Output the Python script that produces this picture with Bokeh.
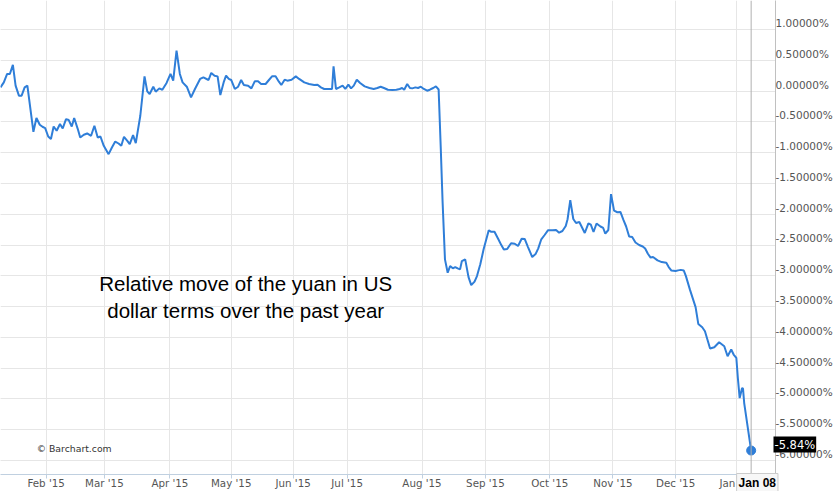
from bokeh.plotting import figure
from bokeh.models import Range1d, FixedTicker, Span, Label, GridBox, Column, LinearAxis, Grid
from bokeh.embed import file_html
from bokeh.resources import INLINE

# trading-session index (approx. one unit per session) and relative move in %
day = [0, 1.1, 2.2, 3.1, 4.1, 5, 6.1, 7, 8, 8.9, 10.9, 11.9, 13, 13.9, 14.8, 15.8, 16.7,
       17.6, 18.6, 19.7, 20.6, 21.7, 22.6, 23.6, 24.4, 25.6, 26.4, 27.6, 28.7, 30, 31.1,
       32.2, 33.1, 34.2, 35.8, 36.9, 38, 39.1, 40, 40.9, 42, 42.8, 43.9, 44.8, 46.3, 47.7,
       48.6, 49.4, 50.6, 51.4, 52.6, 53.6, 55, 56.3, 57.2, 58.3, 59.4, 60.3, 61.7, 63.1,
       64.4, 66.1, 67.2, 68.9, 69.8, 70.9, 71.9, 72.8, 73.9, 74.7, 75.6, 76.4, 77.6, 78.7,
       79.7, 80.6, 82, 83.1, 84.2, 85.3, 86.3, 87.8, 88.9, 90, 91.1, 92.2, 93, 94.1, 95,
       96.4, 97.8, 98.9, 100.6, 102.2, 103.9, 105, 106.1, 107.2, 108.7, 109.8, 110.3,
       111.1, 112.2, 113.3, 114.2, 115.2, 116.1, 117, 118, 119.1, 120.6, 122.2, 123.6,
       124.8, 125.9, 127, 128.3, 129.8, 131.1, 132.2, 133, 133.7, 134.7, 135.6, 136.4,
       137.4, 138.3, 139.2, 140.2, 141.3, 142.2, 143.3, 144.2, 145.1, 145.8, 146.4, 147.2,
       148.1, 148.9, 149.8, 150.6, 151.4, 152.2, 152.8, 153.9, 155, 155.9, 157, 157.8,
       158.9, 160, 161.7, 162.4, 163.6, 164.8, 165.9, 166.7, 167.8, 169.1, 170.3, 171.4,
       172.6, 173.6, 174.7, 176.1, 177.2, 178.1, 179.1, 180.2, 181.3, 182.8, 184, 185,
       186.1, 187.2, 187.8, 188.7, 189.7, 190.6, 191.7, 192.6, 193.5, 194.7, 195.5, 196.4,
       197.4, 198.7, 199.6, 200.3, 201.3, 202.2, 203.2, 204.3, 205.3, 206.3, 207.2, 208.2,
       209.2, 210.3, 211.5, 212.7, 213.5, 214.4, 215.3, 216.1, 217.6, 219, 220.5, 221.3,
       222.2, 223.6, 224.4, 225.3, 226.3, 227, 228.3, 230.2, 231.1, 232.4, 233.3, 235,
       236.4, 238, 239.7, 240.8, 242, 242.8, 243.7, 244.2, 244.8, 245.6, 245.9, 246.3,
       248.6]

move_pct = [0.062, 0.143, 0.280, 0.280, 0.427, 0.090, -0.073, -0.073, 0.062, 0.090,
            -0.660, -0.436, -0.546, -0.578, -0.599, -0.736, -0.778, -0.573, -0.643, -0.534,
            -0.606, -0.453, -0.469, -0.573, -0.436, -0.616, -0.752, -0.708, -0.687, -0.725,
            -0.562, -0.752, -0.736, -0.888, -1.023, -0.915, -0.818, -0.850, -0.888, -0.741,
            -0.806, -0.860, -0.713, -0.844, -0.399, 0.241, -0.003, -0.046, 0.073, -0.008,
            0.046, 0.024, 0.134, 0.280, 0.171, 0.660, 0.280, 0.143, 0.073, -0.101,
            0.036, 0.199, 0.225, 0.182, 0.296, 0.252, 0.241, -0.062, 0.143, 0.252,
            0.199, 0.182, 0.036, 0.073, 0.182, 0.101, 0.090, 0.046, 0.160, 0.160,
            0.117, 0.117, 0.182, 0.244, 0.244, 0.155, 0.101, 0.187, 0.171, 0.187,
            0.241, 0.199, 0.143, 0.117, 0.101, 0.106, 0.062, 0.036, 0.036, 0.036,
            0.404, 0.036, 0.062, 0.090, 0.036, 0.106, 0.046, 0.090, 0.187, 0.134,
            0.078, 0.052, 0.036, 0.052, 0.073, 0.052, 0.024, 0.020, 0.024, 0.036,
            0.052, 0.024, 0.117, 0.052, 0.046, 0.062, 0.052, 0.073, 0.036, 0.008,
            0.024, 0.052, 0.078, 0.028, -0.915, -1.783, -2.733, -2.951, -2.842, -2.879,
            -2.858, -2.879, -2.896, -2.761, -2.733, -3.021, -3.151, -3.094, -3.005, -2.814,
            -2.570, -2.261, -2.283, -2.283, -2.397, -2.505, -2.573, -2.565, -2.472, -2.479,
            -2.516, -2.397, -2.402, -2.533, -2.695, -2.647, -2.554, -2.407, -2.337, -2.261,
            -2.261, -2.256, -2.300, -2.272, -2.191, -2.081, -1.772, -2.077, -2.142, -2.125,
            -2.215, -2.305, -2.147, -2.169, -2.288, -2.150, -2.199, -2.223, -2.316, -2.256,
            -1.674, -1.941, -1.967, -1.963, -2.093, -2.199, -2.362, -2.370, -2.459, -2.500,
            -2.524, -2.557, -2.642, -2.704, -2.695, -2.749, -2.777, -2.788, -2.858, -2.915,
            -2.923, -2.912, -2.904, -2.915, -3.005, -3.221, -3.510, -3.782, -3.836, -3.901,
            -4.182, -4.161, -4.080, -4.145, -4.308, -4.199, -4.280, -4.336, -4.661, -4.987,
            -4.824, -4.834, -5.068, -5.84]

month_ticks = [15.1, 34.4, 56.1, 76.4, 96.9, 114.8, 139.6, 160.6, 181.9, 202.8, 223.6, 243.9]
month_labels = ["Feb '15", "Mar '15", "Apr '15", "May '15", "Jun '15", "Jul '15",
                "Aug '15", "Sep '15", "Oct '15", "Nov '15", "Dec '15", "Jan '16"]
pct_ticks = [1.0, 0.5, 0.0, -0.5, -1.0, -1.5, -2.0, -2.5, -3.0, -3.5, -4.0, -4.5, -5.0, -5.5, -6.0]
pct_labels = ["1.00000%", "0.50000%", "0.00000%", "-0.50000%", "-1.00000%", "-1.50000%",
              "-2.00000%", "-2.50000%", "-3.00000%", "-3.50000%", "-4.00000%", "-4.50000%",
              "-5.00000%", "-5.50000%", "-6.00000%"]
last_date_label = "Jan 08"
last_value_label = "-5.84%"
note_lines = ["Relative move of the yuan in US", "dollar terms over the past year"]
credit = "\u00a9 Barchart.com"

BLUE = "#2f7ed8"
LABEL_COLOR = "#555555"
GRID = "#e6e6e6"
W, H = 835, 491
PX_PER_DAY = 3.0
PX_PER_PCT = 61.4
TOP_PCT = 1.474
FRAME_W, FRAME_H = 770, 473
Y_START = TOP_PCT - FRAME_H / PX_PER_PCT
LABEL_LIFT = 0.106   # tick labels sit a few pixels above their grid lines

p = figure(width=W, height=H, output_backend="svg", toolbar_location=None,
           x_range=Range1d(0, FRAME_W / PX_PER_DAY),
           y_range=Range1d(Y_START, TOP_PCT),
           y_axis_location=None, min_border_left=0, min_border_top=0,
           min_border_right=0, min_border_bottom=0)
p.outline_line_color = None
p.extra_y_ranges = {"labels": Range1d(Y_START - LABEL_LIFT, TOP_PCT - LABEL_LIFT)}

xa = p.xaxis[0]
xa.ticker = FixedTicker(ticks=month_ticks)
xa.major_label_overrides = {t: l for t, l in zip(month_ticks, month_labels)}
xa.major_label_text_font = "DejaVu Sans"
xa.major_label_text_font_size = "10.3px"
xa.major_label_text_color = LABEL_COLOR
xa.major_label_standoff = -2
xa.major_tick_in = 0
xa.major_tick_out = 4
xa.minor_tick_out = 0
xa.minor_tick_in = 0
xa.axis_line_color = "#c0d0e0"
xa.major_tick_line_color = "#c0d0e0"

ya = LinearAxis(y_range_name="labels", ticker=FixedTicker(ticks=pct_ticks),
                major_label_overrides={t: l for t, l in zip(pct_ticks, pct_labels)},
                major_label_text_font="DejaVu Sans", major_label_text_font_size="10.5px",
                major_label_text_color=LABEL_COLOR, major_label_text_align="left",
                major_label_standoff=0,
                major_tick_in=0, major_tick_out=0, minor_tick_in=0, minor_tick_out=0,
                axis_line_color="#c0c0c0")
p.add_layout(ya, "right")

p.xgrid.ticker = FixedTicker(ticks=month_ticks)
p.xgrid.grid_line_color = GRID
p.add_layout(Grid(dimension=1, ticker=FixedTicker(ticks=pct_ticks), grid_line_color=GRID))

p.add_layout(Span(location=day[-1], dimension="height", line_color="#b0b0b0", line_width=1))
p.line(day, move_pct, line_color=BLUE, line_width=2)
p.scatter([day[-1]], [move_pct[-1]], size=9, color=BLUE)

for i, line in enumerate(note_lines):
    p.add_layout(Label(x=81.2, y=-3.119 - i * 0.44, text=line, text_align="center",
                       text_baseline="middle", text_font="Liberation Sans",
                       text_font_size="20.5px", text_color="black"))
p.add_layout(Label(x=12, y=-5.806, text=credit, text_align="left", text_baseline="middle",
                   text_font="DejaVu Sans", text_font_size="9.3px", text_color="#333333"))

# transparent overlay on the same scale, spanning the whole canvas, for the
# cursor read-outs that sit on top of the axes
q = figure(width=W, height=H, output_backend="svg", toolbar_location=None,
           x_range=Range1d(0, W / PX_PER_DAY),
           y_range=Range1d(TOP_PCT - H / PX_PER_PCT, TOP_PCT),
           x_axis_location=None, y_axis_location=None,
           min_border_left=0, min_border_right=0, min_border_top=0, min_border_bottom=0)
q.outline_line_color = None
q.grid.visible = False
q.background_fill_alpha = 0
q.border_fill_alpha = 0
q.add_layout(Label(x=day[-1], y=TOP_PCT - H / PX_PER_PCT, x_offset=11, y_offset=9,
                   text=last_date_label, text_align="center", text_baseline="middle",
                   text_font="Liberation Sans", text_font_size="12px", text_font_style="bold",
                   text_color="black", background_fill_color="#f7f7f7",
                   border_line_color="#cccccc", padding=2))
q.add_layout(Label(x=773, x_units="screen", y=move_pct[-1], y_offset=5,
                   text=last_value_label, text_align="left", text_baseline="middle",
                   text_font="DejaVu Sans", text_font_size="11.5px", text_color="white",
                   background_fill_color="black", padding=1))

layout = GridBox(children=[(p, 0, 0), (Column(children=[q]), 0, 0)])
open("out.html", "w").write(file_html(layout, INLINE))
